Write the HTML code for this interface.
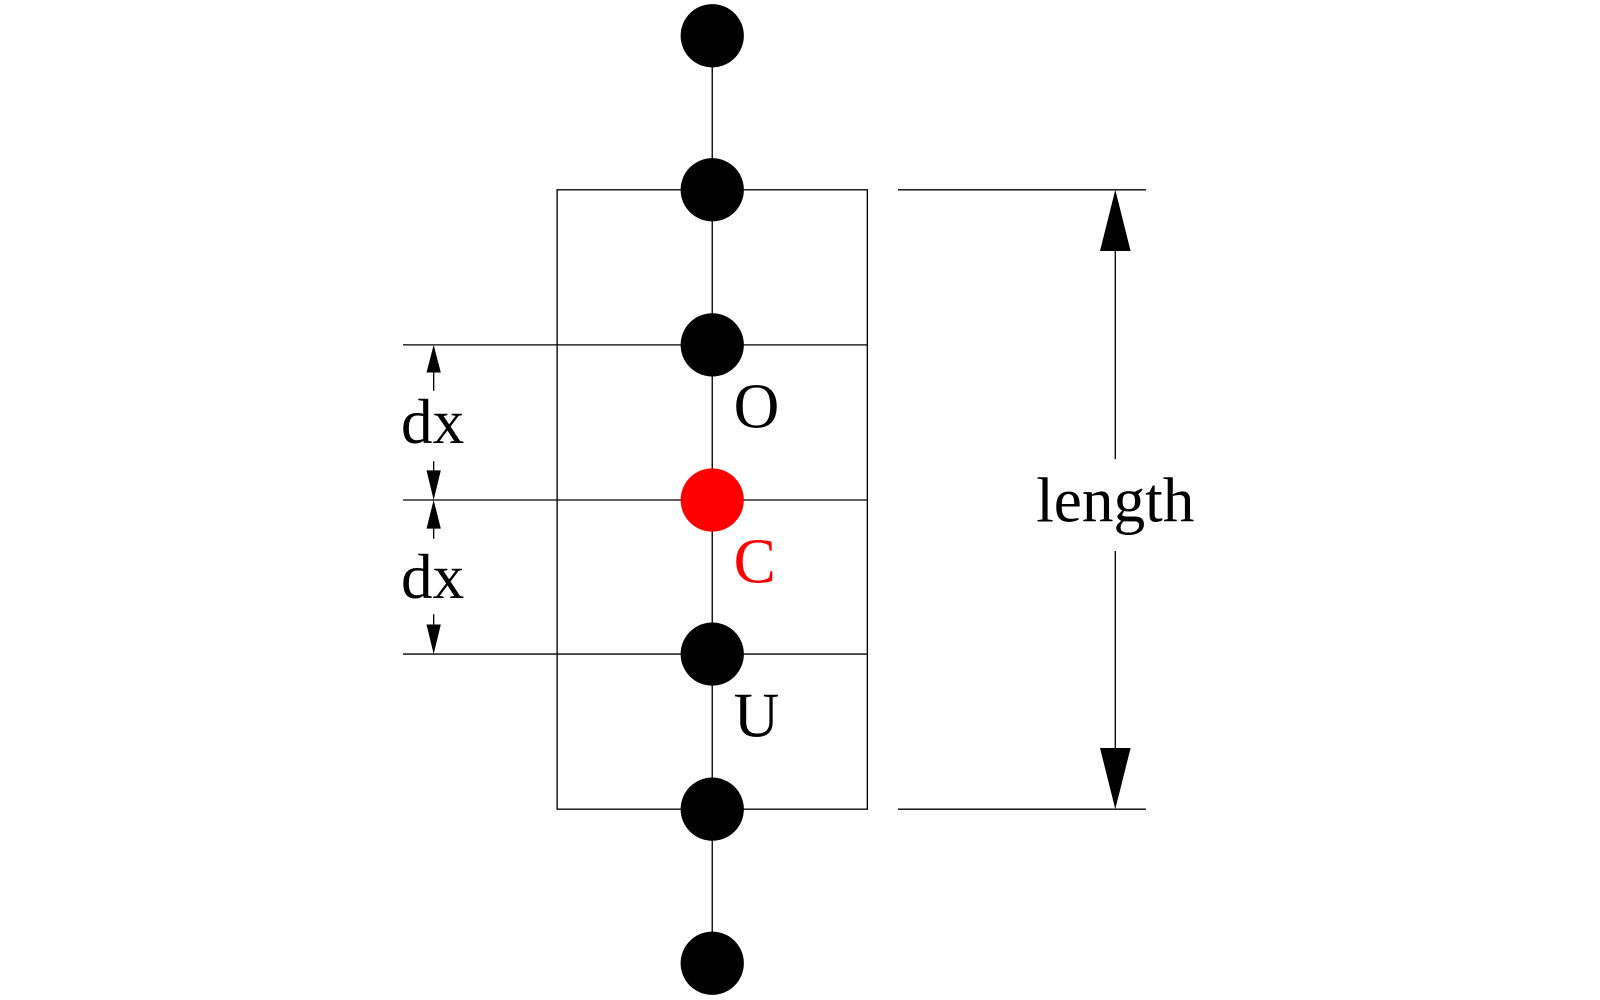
<!DOCTYPE html>
<html><head><meta charset="utf-8"><style>body{margin:0;background:#fff}svg{display:block}</style></head>
<body>
<svg width="1600" height="1000" viewBox="0 0 1600 1000" font-family="'Liberation Serif',serif">
<g transform="scale(1.0204)">
<g stroke="#000" stroke-width="1.3" fill="none">
<line x1="698" y1="35" x2="698" y2="944"/>
<rect x="546" y="186" width="304" height="607"/>
<line x1="395" y1="338" x2="850" y2="338"/>
<line x1="395" y1="490" x2="850" y2="490"/>
<line x1="395" y1="641" x2="850" y2="641"/>
<line x1="880" y1="186" x2="1123" y2="186"/>
<line x1="880" y1="793" x2="1123" y2="793"/>
<line x1="1093" y1="240" x2="1093" y2="450"/>
<line x1="1093" y1="540" x2="1093" y2="740"/>
<line x1="425" y1="360" x2="425" y2="383"/>
<line x1="425" y1="452" x2="425" y2="470"/>
<line x1="425" y1="510" x2="425" y2="528"/>
<line x1="425" y1="602" x2="425" y2="620"/>
</g>
<g fill="#000">
<polygon points="1093,186 1078,246 1108,246"/>
<polygon points="1093,793 1078,733 1108,733"/>
<polygon points="425,338 418,365 432,365"/>
<polygon points="425,490 418,461 432,461"/>
<polygon points="425,490 418,518 432,518"/>
<polygon points="425,641 418,612 432,612"/>
</g>
<g>
<circle cx="698" cy="35" r="31" fill="#000"/>
<circle cx="698" cy="186" r="31" fill="#000"/>
<circle cx="698" cy="338" r="31" fill="#000"/>
<circle cx="698" cy="490" r="31" fill="#f00"/>
<circle cx="698" cy="641" r="31" fill="#000"/>
<circle cx="698" cy="793" r="31" fill="#000"/>
<circle cx="698" cy="944" r="31" fill="#000"/>
</g>
<g font-size="62" fill="#000">
<text x="719" y="419">O</text>
<text x="719" y="571" fill="#f00">C</text>
<text x="719" y="722">U</text>
<text x="393" y="434">dx</text>
<text x="393" y="586">dx</text>
<text x="1093" y="511" text-anchor="middle">length</text>
</g>
</g>
</svg>
</body></html>
